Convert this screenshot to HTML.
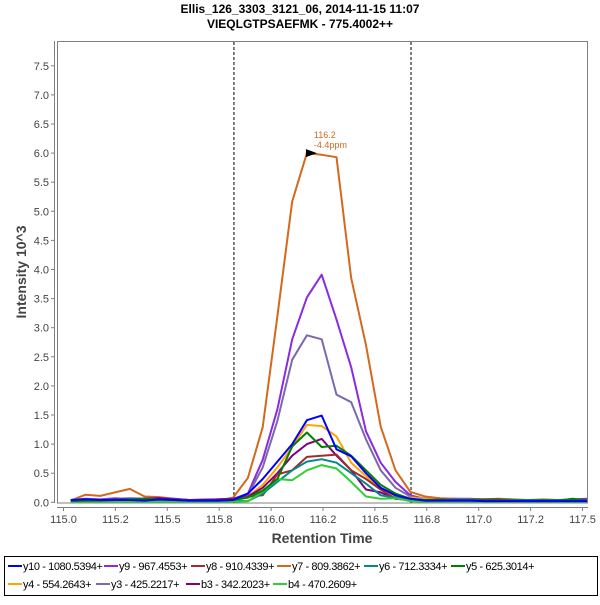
<!DOCTYPE html>
<html><head><meta charset="utf-8"><style>
body{margin:0;background:#fff;font-family:"Liberation Sans",sans-serif;}
svg text{font-family:"Liberation Sans",sans-serif;}
</style></head><body>
<svg id="chart" width="600" height="600" xmlns="http://www.w3.org/2000/svg">
<rect width="600" height="600" fill="#fff"/>
<text x="300" y="13" text-anchor="middle" font-size="12" font-weight="bold">Ellis_126_3303_3121_06, 2014-11-15 11:07</text>
<text x="300" y="28" text-anchor="middle" font-size="12" font-weight="bold">VIEQLGTPSAEFMK - 775.4002++</text>
<rect x="57.5" y="41.5" width="530" height="461.5" fill="#fff" stroke="#808080"/>
<g id="yaxis"></g>
<g id="xaxis"></g>
<g id="marks"></g>
<text x="0" y="0" transform="translate(26,272) rotate(-90)" text-anchor="middle" font-size="14" font-weight="bold" fill="#444">Intensity 10^3</text>
<text x="322" y="543" text-anchor="middle" font-size="14" font-weight="bold" fill="#444">Retention Time</text>
<rect x="4.5" y="556.5" width="593" height="39" fill="#fff" stroke="#000"/>
<g id="legend"></g>
</svg>
<script>
const yTicks=[0,0.5,1,1.5,2,2.5,3,3.5,4,4.5,5,5.5,6,6.5,7,7.5];
const xTicks=[115,115.25,115.5,115.75,116,116.25,116.5,116.75,117,117.25,117.5];
const xTickLabels=["115.0","115.2","115.5","115.8","116.0","116.2","116.5","116.8","117.0","117.2","117.5"];
const t0=115.035, tStep=0.0711;
const boundaries=[115.821,116.674];
const seriesNames=["y10 - 1080.5394+","y9 - 967.4553+","y8 - 910.4339+","y7 - 809.3862+","y6 - 712.3334+","y5 - 625.3014+","y4 - 554.2643+","y3 - 425.2217+","b3 - 342.2023+","b4 - 470.2609+"];
const seriesColors=["#0000ff","#8a2be2","#a52a2a","#d2691e","#008b8b","#008000","#ffa500","#7b68b0","#800080","#32cd32"];
const y10=[0.04,0.05,0.04,0.04,0.04,0.03,0.05,0.04,0.03,0.03,0.03,0.04,0.15,0.4,0.7,1.0,1.41,1.49,0.91,0.79,0.5,0.25,0.12,0.06,0.03,0.03,0.03,0.03,0.02,0.02,0.02,0.02,0.02,0.02,0.02,0.02];
const y9=[0.04,0.06,0.05,0.07,0.06,0.05,0.07,0.06,0.04,0.04,0.05,0.06,0.15,0.73,1.6,2.8,3.52,3.91,3.14,2.32,1.22,0.68,0.35,0.12,0.06,0.05,0.06,0.06,0.05,0.05,0.04,0.04,0.04,0.04,0.05,0.06];
const y8=[0.02,0.03,0.02,0.02,0.02,0.02,0.03,0.02,0.02,0.02,0.03,0.05,0.1,0.12,0.48,0.55,0.78,0.8,0.82,0.55,0.4,0.22,0.06,0.04,0.04,0.05,0.04,0.04,0.05,0.05,0.04,0.04,0.04,0.04,0.04,0.04];
const y7=[0.03,0.13,0.11,0.17,0.23,0.1,0.09,0.06,0.04,0.04,0.03,0.08,0.42,1.29,3.2,5.17,6.0,5.97,5.93,3.85,2.7,1.3,0.55,0.18,0.1,0.07,0.06,0.05,0.05,0.06,0.05,0.04,0.05,0.04,0.04,0.04];
const y6=[0.02,0.03,0.03,0.04,0.06,0.05,0.04,0.04,0.03,0.03,0.03,0.03,0.02,0.15,0.35,0.55,0.7,0.74,0.68,0.5,0.32,0.12,0.08,0.04,0.03,0.03,0.04,0.04,0.04,0.04,0.04,0.04,0.04,0.04,0.03,0.03];
const y5=[0.02,0.03,0.03,0.04,0.05,0.06,0.05,0.04,0.03,0.03,0.03,0.04,0.08,0.2,0.4,0.96,1.2,0.95,0.97,0.8,0.55,0.3,0.15,0.06,0.04,0.04,0.04,0.04,0.04,0.04,0.03,0.03,0.03,0.03,0.06,0.03];
const y4=[0.03,0.04,0.04,0.04,0.04,0.05,0.04,0.04,0.03,0.04,0.04,0.04,0.1,0.3,0.6,0.95,1.33,1.31,1.13,0.68,0.45,0.25,0.1,0.08,0.06,0.05,0.04,0.04,0.04,0.04,0.04,0.04,0.04,0.04,0.04,0.04];
const y3=[0.04,0.05,0.05,0.06,0.07,0.06,0.06,0.05,0.04,0.05,0.05,0.05,0.12,0.6,1.4,2.45,2.87,2.8,1.85,1.72,1.08,0.55,0.25,0.1,0.06,0.05,0.05,0.05,0.05,0.05,0.04,0.04,0.04,0.04,0.04,0.04];
const b3=[0.03,0.04,0.04,0.05,0.06,0.06,0.07,0.05,0.04,0.04,0.05,0.06,0.1,0.25,0.5,0.8,1.0,1.09,0.8,0.55,0.22,0.17,0.06,0.04,0.04,0.04,0.04,0.04,0.04,0.04,0.04,0.04,0.04,0.04,0.04,0.04];
const b4=[0.01,0.01,0.01,0.01,0.01,0.01,0.01,0.01,0.01,0.01,0.01,0.01,0.02,0.18,0.4,0.38,0.55,0.64,0.58,0.35,0.1,0.06,0.07,0.02,0.01,0.01,0.01,0.01,0.01,0.01,0.01,0.01,0.01,0.01,0.01,0.01];
const seriesData=[y10,y9,y8,y7,y6,y5,y4,y3,b3,b4];
const drawOrder=[3,1,7,6,8,2,4,9,5,0];
const NS="http://www.w3.org/2000/svg";
function X(t){return 63.5+(t-115)*207.6;}
function Y(v){return 502.3-v*58.2;}
function mk(tag,attrs,parent){const e=document.createElementNS(NS,tag);for(const k in attrs)e.setAttribute(k,attrs[k]);parent.appendChild(e);return e;}
const ya=document.getElementById('yaxis'),xa=document.getElementById('xaxis'),mg=document.getElementById('marks'),lg=document.getElementById('legend');
mk('line',{x1:54.5,y1:41,x2:54.5,y2:503,stroke:'#808080'},ya);
yTicks.forEach(v=>{const y=Y(v);
 mk('line',{x1:51,y1:y,x2:54.5,y2:y,stroke:'#808080'},ya);
 const t=mk('text',{x:49,y:y+4,'text-anchor':'end','font-size':11,fill:'#444'},ya);t.textContent=v.toFixed(1);
 
 
});
mk('line',{x1:57,y1:507.5,x2:588,y2:507.5,stroke:'#808080'},xa);
xTicks.forEach((v,i)=>{const x=X(v);
 mk('line',{x1:x,y1:507.5,x2:x,y2:511,stroke:'#808080'},xa);
 const t=mk('text',{x:x,y:523,'text-anchor':'middle','font-size':11,fill:'#444'},xa);t.textContent=xTickLabels[i];
 
 
});
boundaries.forEach(b=>{const l=mk('line',{x1:X(b),y1:42,x2:X(b),y2:503,stroke:'#000','stroke-dasharray':'3,2','stroke-width':1},mg);
 
 
});
drawOrder.forEach(s=>{const pts=seriesData[s].map((v,i)=>{const x=Math.min(X(t0+i*tStep),587);return x.toFixed(1)+','+Y(v).toFixed(1);}).join(' ');
 const p=mk('polyline',{points:pts,fill:'none',stroke:seriesColors[s],'stroke-width':2,'stroke-linejoin':'round'},mg);
 
 
});
const px=X(t0+16*tStep),py=Y(y7[16]);
const tri=mk('polygon',{points:(px-1)+','+(py-4)+' '+(px-1)+','+(py+4)+' '+(px+10)+','+py,fill:'#000'},mg);


const a1=mk('text',{x:px+7,y:py-15,'font-size':9,fill:'#d2691e'},mg);a1.textContent='116.2';


const a2=mk('text',{x:px+7,y:py-5,'font-size':9,fill:'#d2691e'},mg);a2.textContent='-4.4ppm';


const legX=[8,104,191,277,364,451,8,96,186,273];
seriesNames.forEach((n,i)=>{const row=i<6?0:1;const y=row?588:570;const x=legX[i];
 const g=mk('g',{},lg);
 
 
 mk('line',{x1:x,y1:y-4,x2:x+14,y2:y-4,stroke:seriesColors[i],'stroke-width':2},g);
 const t=mk('text',{x:x+15,y:y,'font-size':11,fill:'#000','letter-spacing':'-0.4'},g);t.textContent=n;
});
</script>
</body></html>
